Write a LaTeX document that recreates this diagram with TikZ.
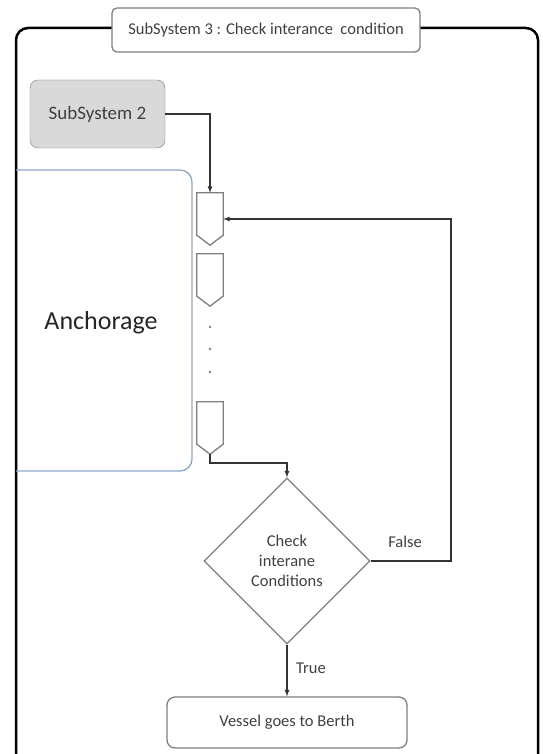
\documentclass[tikz,border=0pt]{standalone}
\usepackage{fontspec}
\setmainfont{Carlito}
\usetikzlibrary{shapes.geometric}
\definecolor{boxgray}{HTML}{D9D9D9}
\definecolor{edgegray}{HTML}{7F7F7F}
\definecolor{anchblue}{HTML}{8EA9C8}
\definecolor{txt}{HTML}{404040}
\begin{document}
\begin{tikzpicture}[x=1pt, y=-1pt, font=\fontsize{16.5}{20}\selectfont, text=txt,
    qbox/.style={minimum width=26pt, minimum height=52pt, inner sep=0pt},
    flow/.style={-latex, line width=1.2pt, black!80}]
    \useasboundingbox[fill=white] (0,0) rectangle (542,754);

    % Outer frame of subsystem 3
    \draw[line width=2.5pt, rounded corners=12pt] (16,760) -- (16,28) -- (538,28) -- (538,760);
    \node[draw=edgegray, line width=1.3pt, fill=white, rounded corners=5pt, minimum width=308pt, minimum height=44pt] (title) at (266,30) {SubSystem 3 : Check interance\ \ condition};

    % Left: anchorage and incoming subsystem
    \node[draw=edgegray, fill=boxgray, rounded corners=8pt, minimum width=135pt, minimum height=68pt, font=\fontsize{19}{23}\selectfont] (sub2) at (97.5,114) {SubSystem 2};
    \draw[anchblue, line width=1.3pt, rounded corners=12pt] (16,170) -- (192,170) -- (192,471) -- (16,471);
    \node[font=\fontsize{26}{30}\selectfont, text=black!85] (anch) at (101,323) {Anchorage};

    % Queue of vessels
    \foreach \n/\y in {q1/193, q2/254, q3/402} {
        \node[qbox] (\n) at (210,\y+26) {};
        \draw[edgegray, line width=1.3pt] (\n.north west) -- (\n.north east) -- ([yshift=10pt]\n.south east) -- (\n.south) -- ([yshift=10pt]\n.south west) -- cycle;
    }
    \foreach \y in {327, 349, 372} {
        \fill[edgegray] (210,\y) circle (1.3pt);
    }

    % Decision
    \node[diamond, draw=edgegray, line width=1.3pt, minimum width=166pt, minimum height=166pt, inner sep=0pt, align=center] (check) at (287,561) {Check\\interane\\Conditions};
    \node[draw=edgegray, line width=1.3pt, rounded corners=8pt, minimum width=240pt, minimum height=51pt] (berth) at (287,722.5) {Vessel goes to Berth};

    % Connectors
    \draw[flow] (sub2.east) -| (q1.north);
    \draw[flow] (q3.south) |- (287,463) -- (check.north);
    \draw[flow] (check.east) -- (451,561) |- (q1.east);
    \draw[flow] (check.south) -- (berth.north);
    \node at (405,542) {False};
    \node at (311,668) {True};
\end{tikzpicture}
\end{document}
